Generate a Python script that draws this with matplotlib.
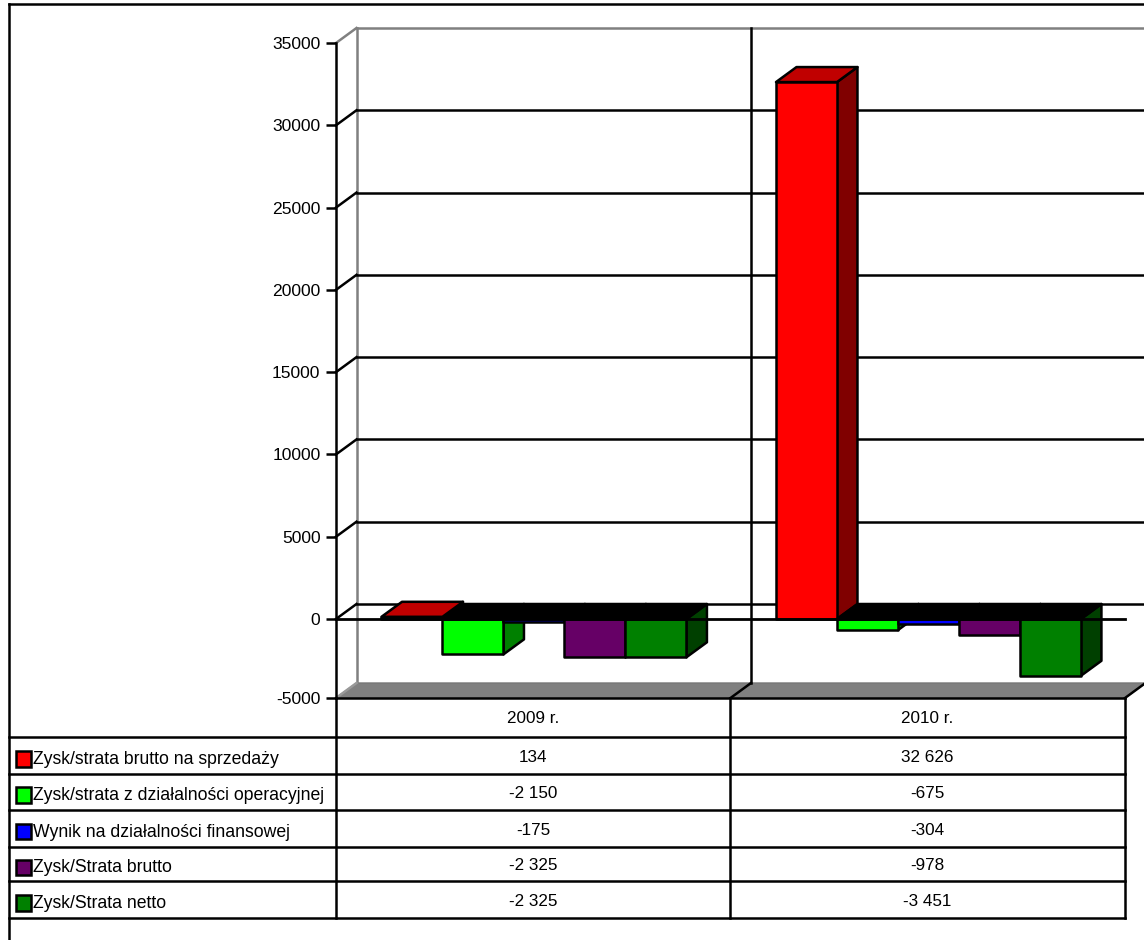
import matplotlib.pyplot as plt
from matplotlib.patches import Polygon, Rectangle

plt.rcParams["font.family"] = ["Liberation Sans", "DejaVu Sans"]
plt.rcParams["font.size"] = 12

###########################################################
# Data
###########################################################

years = ["2009 r.", "2010 r."]
series_names = [
    "Zysk/strata brutto na sprzedaży",
    "Zysk/strata z działalności operacyjnej",
    "Wynik na działalności finansowej",
    "Zysk/Strata brutto",
    "Zysk/Strata netto",
]
values_2009 = [134, -2150, -175, -2325, -2325]
values_2010 = [32626, -675, -304, -978, -3451]
cell_2009 = ["134", "-2 150", "-175", "-2 325", "-2 325"]
cell_2010 = ["32 626", "-675", "-304", "-978", "-3 451"]

front_colors = ["#ff0000", "#00ff00", "#0000ff", "#660066", "#008000"]
side_colors = ["#800000", "#008000", "#000080", "#330033", "#004000"]
top_color_red = "#c00000"

grid_values = [0, 5000, 10000, 15000, 20000, 25000, 30000]
tick_labels = ["-5000", "0", "5000", "10000", "15000", "20000", "25000", "30000", "35000"]
tick_values = [-4800, 0, 5000, 10000, 15000, 20000, 25000, 30000, 35000]

###########################################################
# Layout (pixels)
###########################################################

W, H = 1144, 940
LEFT, RIGHT, TOP, BOTTOM = 336, 1125, 43, 698
DEPTH_X_PX, DEPTH_Y_PX = 20.5, 15
LW = 1.8

YMIN, YMAX = -4800, 35000
DX = DEPTH_X_PX * 2 / (RIGHT - LEFT)
DY = DEPTH_Y_PX * (YMAX - YMIN) / (BOTTOM - TOP)

BAR_W = 0.1546
GROUP_GAP = 0.1153

fig = plt.figure(figsize=(W / 100, H / 100), dpi=100)

ax = fig.add_axes([LEFT / W, 1 - BOTTOM / H, (RIGHT - LEFT) / W, (BOTTOM - TOP) / H])
ax.set_xlim(0, 2)
ax.set_ylim(YMIN, YMAX)
ax.patch.set_visible(False)
for side in ["top", "right", "bottom"]:
    ax.spines[side].set_visible(False)
ax.spines["left"].set_linewidth(LW)
ax.set_xticks([])
ax.set_yticks(tick_values)
ax.set_yticklabels(tick_labels)
ax.tick_params(axis="y", length=7.2, width=LW, pad=4, labelsize=12.6)


###########################################################
# Walls and floor
###########################################################

def back_line(x0, x1, y, color, lw=LW, z=1):
    ax.plot([x0 + DX, x1 + DX], [y + DY, y + DY], color=color, lw=lw, clip_on=False, zorder=z)


def diagonal(x, y, color):
    ax.plot([x, x + DX], [y, y + DY], color=color, lw=LW, clip_on=False, zorder=1)


def poly(points, face, z):
    ax.add_patch(Polygon(points, closed=True, facecolor=face, edgecolor="black",
                         linewidth=LW, clip_on=False, zorder=z, joinstyle="round"))


ax.add_patch(Polygon([(0, YMIN), (DX, YMIN + DY), (2 + DX, YMIN + DY), (2, YMIN)], closed=True,
                     facecolor="#808080", edgecolor="#777777", linewidth=1, clip_on=False, zorder=1))
ax.plot([DX, DX], [YMIN + DY, YMAX + DY], color="#808080", lw=LW, clip_on=False, zorder=1)
back_line(0, 2, YMAX, "#808080")
diagonal(0, YMAX, "#808080")
diagonal(0, YMIN, "#999999")
for g in grid_values:
    back_line(0, 2, g, "black")
    diagonal(0, g, "black")
ax.plot([1 + DX, 1 + DX], [YMIN + DY, YMAX + DY], color="black", lw=LW, clip_on=False, zorder=1)
diagonal(1, YMIN, "black")
diagonal(2, YMIN, "black")


###########################################################
# Bars
###########################################################

def draw_bar(x, v, i):
    x1 = x + BAR_W
    z = 3 + i * 0.1
    top = max(v, 0)
    low = min(v, 0)
    poly([(x1, low), (x1 + DX, low + DY), (x1 + DX, top + DY), (x1, top)], side_colors[i], z)
    top_face = top_color_red if v > 0 else "black"
    poly([(x, top), (x + DX, top + DY), (x1 + DX, top + DY), (x1, top)], top_face, z)
    poly([(x, low), (x, top), (x1, top), (x1, low)], front_colors[i], z)


for k, vals in enumerate([values_2009, values_2010]):
    for i, v in enumerate(vals):
        draw_bar(k + GROUP_GAP + i * BAR_W, v, i)

ax.axhline(0, color="black", lw=2.0, clip_on=False, zorder=5)

###########################################################
# Frame and data table
###########################################################

over = fig.add_axes([0, 0, 1, 1])
over.set_xlim(0, W)
over.set_ylim(H, 0)
over.axis("off")
over.patch.set_visible(False)

rows = [737, 774, 809.5, 847, 881, 918]
col_x = [336, 730, 1125]
frame_x = 9

over.plot([frame_x, frame_x], [4, H], color="black", lw=LW)
over.plot([frame_x, W], [4, 4], color="black", lw=LW)
over.plot([col_x[0], col_x[2]], [BOTTOM, BOTTOM], color="black", lw=LW)
for y in rows:
    over.plot([frame_x, col_x[2]], [y, y], color="black", lw=LW)
for x in col_x:
    over.plot([x, x], [BOTTOM, rows[-1]], color="black", lw=LW)

col_center = [(col_x[0] + col_x[1]) / 2, (col_x[1] + col_x[2]) / 2]
for c, year in zip(col_center, years):
    over.text(c, (BOTTOM + rows[0]) / 2 + 1, year, ha="center", va="center", fontsize=12.3)

for i, name in enumerate(series_names):
    yc = (rows[i] + rows[i + 1]) / 2
    over.add_patch(Rectangle((16, yc - 4.5), 15, 15.5, facecolor=front_colors[i],
                             edgecolor="black", linewidth=LW))
    over.text(33, yc + 4, name, ha="left", va="center", fontsize=12.7)
    over.text(col_center[0], yc + 2, cell_2009[i], ha="center", va="center", fontsize=12.3)
    over.text(col_center[1], yc + 2, cell_2010[i], ha="center", va="center", fontsize=12.3)

fig.savefig("out.png", dpi=100)
